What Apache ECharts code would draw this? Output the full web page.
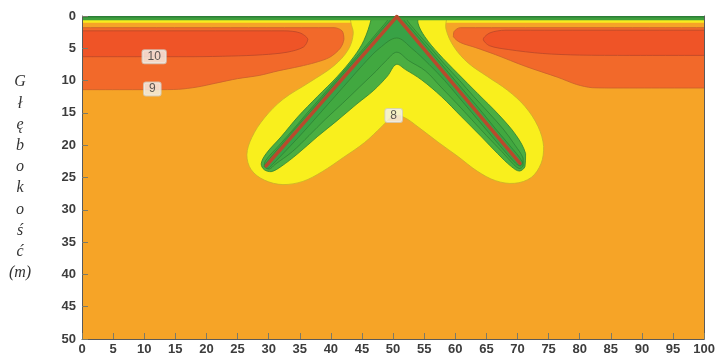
<!DOCTYPE html>
<html>
<head>
<meta charset="utf-8">
<script src="https://cdn.jsdelivr.net/npm/echarts@6/dist/echarts.min.js"></script>
<style>
  html, body { margin: 0; padding: 0; background: #ffffff; }
  #chart { width: 718px; height: 358px; }
</style>
</head>
<body>
<div id="chart"></div>
<script>
// Axis ranges (distance in m, depth in m)
const xRange = [0, 100];
const depthRange = [0, 50];
const tickStep = 5;

// Contour outlines as [distance, depth] pairs (temperature bands in °C)
const plotArea = [[-3, -1], [103, -1], [103, 53], [-3, 53]];

// 9–10 °C band, left and right of the pipes
const band9Left = [[-3, 1.8], [40.5, 1.8], [41.8, 2.3], [42.1, 3.6], [41.5, 5], [39.8, 6.4], [37.5, 7.2], [35, 7.8], [31.5, 8.5], [28.5, 9.2], [25, 9.7], [21.5, 10.4], [18.5, 11], [15.5, 11.35], [12, 11.4], [-3, 11.4]];
const band9Right = [[103, 1.8], [60.8, 1.8], [59.8, 2.4], [59.7, 3.2], [60.8, 4.1], [63.3, 4.9], [66.5, 6], [71.3, 7.8], [76.5, 9.5], [79.5, 10.6], [82, 11.1], [86, 11.15], [103, 11.15]];

// above 10 °C
const band10Left = [[-3, 2.3], [32.5, 2.3], [35, 2.6], [36.3, 3.6], [35.6, 4.8], [33, 5.6], [29, 6.0], [24, 6.2], [18, 6.3], [-3, 6.3]];
const band10Right = [[103, 2.2], [68, 2.2], [65.6, 2.6], [64.5, 3.6], [65.5, 4.6], [68.6, 5.2], [74, 5.8], [80, 6.05], [88, 6.1], [103, 6.1]];

// cold surface layer
const surfaceYellow = [[-3, -1], [103, -1], [103, 1.05], [-3, 1.05]];
const surfaceGreen = [[-3, -1], [103, -1], [103, 0.65], [-3, 0.65]];
const surfaceDark = [[-3, -1], [103, -1], [103, 0.22], [-3, 0.22]];

// below 8 °C around the V
const band8V = [[43.2, -1], [43.2, 0.9], [43.6, 2.7], [42.8, 5.2], [40.5, 7.7], [36.5, 10.3], [32.3, 12.9], [29.3, 15.8], [27.3, 18.8], [26.5, 21.5], [27.2, 23.8], [29.3, 25.4], [32.3, 26.1], [35.5, 25.6], [38.6, 24.1], [42, 21.9], [45.4, 19.6], [48.2, 17.1], [50.1, 15.4], [51.8, 15.7], [54.2, 17.3], [57.2, 19.5], [60.5, 21.8], [63.5, 24], [66.5, 25.5], [69.5, 25.9], [72.2, 25], [73.8, 22.8], [74.2, 20.2], [73.3, 17.1], [71.2, 14], [68.4, 11.5], [65.2, 9.4], [62.1, 7.3], [59.8, 4.8], [58.5, 2], [58.3, -1]];

// below 7, 6 and 5 °C
const band7V = [[46.5, -1], [46.5, 0.4], [45.3, 3.8], [43.7, 6.3], [41, 9.4], [37.8, 12.5], [34.7, 15.6], [32, 18.7], [29.6, 21.3], [28.8, 22.9], [29.3, 23.8], [30.4, 24.1], [32, 23.3], [34.7, 21.3], [37.8, 18.7], [41, 16.2], [44.2, 13.6], [46.9, 11.5], [49.1, 9.3], [50.5, 7.5], [52, 8.3], [54.6, 9.9], [57.8, 12.5], [61, 15.6], [64.2, 18.7], [66.8, 21.3], [69, 23.3], [70.3, 24], [71.2, 23.3], [71.3, 21.3], [69.8, 18.5], [67, 15.3], [63.6, 12], [60.4, 8.9], [57.3, 5.8], [55.1, 3.2], [54, 1.1], [54, -1]];
const band6V = [[49.4, -1], [49.4, 0.2], [47.5, 2.5], [45.3, 5], [43, 7.5], [40.75, 10], [38.5, 12.5], [36.2, 15], [34, 17.5], [31.7, 20], [29.5, 22.4], [29.3, 23.3], [30.1, 23.7], [31, 23], [33.8, 21], [36.5, 18.5], [39.1, 16], [41.9, 13.5], [44.6, 11], [47.3, 8.5], [48.9, 6.9], [50.6, 5.6], [52.5, 6.9], [55.2, 8.5], [57.7, 11], [60.2, 13.5], [62.6, 16], [65, 18.5], [67.5, 21], [69.4, 23], [70.3, 23.6], [70.9, 23.2], [70.9, 22], [69.6, 20], [67.7, 17.5], [65.4, 15], [63, 12.5], [60.7, 10], [58.3, 7.5], [56.1, 5], [53.8, 2.5], [52, 0.2], [52, -1]];
const band5V = [[50, -1], [50, 0], [47.8, 2.5], [45.6, 5], [43.3, 7.5], [41.05, 10], [38.8, 12.5], [36.5, 15], [34.2, 17.5], [32, 20], [29.8, 22.5], [29.4, 23.3], [29.9, 23.6], [30.6, 23], [33.6, 20], [36, 17.5], [38.3, 15], [40.6, 12.5], [42.9, 10], [45.2, 7.5], [47.8, 5], [50.6, 3.4], [53, 5], [55.8, 7.5], [58.3, 10], [60.5, 12.5], [62.7, 15], [64.9, 17.5], [67.1, 20], [69.7, 22.8], [70.5, 23.2], [70.8, 22.6], [68.7, 20], [66.5, 17.5], [64.4, 15], [62.2, 12.5], [60, 10], [57.8, 7.5], [55.6, 5], [53.4, 2.5], [51.3, 0], [51.3, -1]];

// Inclined pipes (top and bottom ends)
const pipeLeft = [[50.6, 0.1], [29.6, 23.2]];
const pipeRight = [[50.6, 0.1], [70.4, 22.8]];

// Contour value labels: [distance, depth, text]
const contourLabels = [[11.6, 6.3, '10'], [11.3, 11.3, '9'], [50.1, 15.4, '8']];

// Axis title, one letter per line
const depthTitle = ['G', 'ł', 'ę', 'b', 'o', 'k', 'o', 'ś', 'ć', '(m)'];

// Drawing order and styles of the filled bands
const layers = [
  { outline: plotArea, fill: '#F6A427', stroke: null, smooth: 0 },
  { outline: band9Left, fill: '#F2692A', stroke: '#C9602C', smooth: 0.3 },
  { outline: band9Right, fill: '#F2692A', stroke: '#C9602C', smooth: 0.3 },
  { outline: band10Left, fill: '#EF5427', stroke: '#B9482A', smooth: 0.3 },
  { outline: band10Right, fill: '#EF5427', stroke: '#B9482A', smooth: 0.3 },
  { outline: surfaceYellow, fill: '#F8EC1E', stroke: null, smooth: 0 },
  { outline: band8V, fill: '#F9EF1D', stroke: '#C9B02A', smooth: 0.35 },
  { outline: band7V, fill: '#4AAE42', stroke: '#2F8234', smooth: 0.35 },
  { outline: band6V, fill: '#41A840', stroke: '#2F8234', smooth: 0.35 },
  { outline: band5V, fill: '#38A246', stroke: '#2F8234', smooth: 0.35 },
  { outline: surfaceGreen, fill: '#3E9F3C', stroke: null, smooth: 0 },
  { outline: surfaceDark, fill: '#2C7F36', stroke: null, smooth: 0 }
];

const chart = echarts.init(document.getElementById('chart'), null, { renderer: 'canvas' });

const tickLabelStyle = { color: '#3c3c3c', fontSize: 13, fontWeight: 'bold', fontFamily: 'Liberation Sans, Arial, sans-serif' };

// bounding box of screen points, keeps smoothed curves inside their outline
function boundsOf(points) {
  let minX = Infinity, minY = Infinity, maxX = -Infinity, maxY = -Infinity;
  points.forEach(p => {
    minX = Math.min(minX, p[0]); maxX = Math.max(maxX, p[0]);
    minY = Math.min(minY, p[1]); maxY = Math.max(maxY, p[1]);
  });
  return [[minX, minY], [maxX, maxY]];
}

chart.setOption({
  animation: false,
  backgroundColor: '#ffffff',
  grid: { left: 82, right: 12, top: 16, bottom: 19 },
  xAxis: {
    type: 'value', min: xRange[0], max: xRange[1], interval: tickStep, z: 10,
    axisLine: { show: true, onZero: false, lineStyle: { color: '#5a5a5a', width: 1 } },
    axisTick: { show: true, inside: true, length: 6, lineStyle: { color: '#7a7a6a' } },
    axisLabel: Object.assign({ margin: 4 }, tickLabelStyle),
    splitLine: { show: false }
  },
  yAxis: [{
    type: 'value', inverse: true, min: depthRange[0], max: depthRange[1], interval: tickStep, z: 10,
    axisLine: { show: true, onZero: false, lineStyle: { color: '#5a5a5a', width: 1 } },
    axisTick: { show: true, inside: true, length: 6, lineStyle: { color: '#7a7a6a' } },
    axisLabel: Object.assign({ margin: 6 }, tickLabelStyle),
    splitLine: { show: false },
    name: depthTitle.join('\n'),
    nameLocation: 'middle',
    nameRotate: 0,
    nameGap: 62,
    nameTextStyle: {
      fontFamily: 'Liberation Serif, serif', fontStyle: 'italic', fontSize: 16,
      color: '#333', lineHeight: 21.2, align: 'center', verticalAlign: 'middle'
    }
  }, {
    type: 'value', inverse: true, min: depthRange[0], max: depthRange[1], interval: tickStep, position: 'right', z: 10,
    axisLine: { show: true, onZero: false, lineStyle: { color: '#5a5a5a', width: 1 } },
    axisTick: { show: false }, axisLabel: { show: false }, splitLine: { show: false }
  }],
  series: [
    {
      type: 'custom',
      coordinateSystem: 'cartesian2d',
      clip: true,
      silent: true,
      data: layers.map((l, i) => [i, 0]),
      renderItem: function (params, api) {
        const layer = layers[params.dataIndex];
        const points = layer.outline.map(p => api.coord(p));
        const shape = { points: points };
        if (layer.smooth) {
          shape.smooth = layer.smooth;
          shape.smoothConstraint = boundsOf(points);
        }
        return {
          type: 'polygon',
          shape: shape,
          style: {
            fill: layer.fill,
            stroke: layer.stroke || null,
            lineWidth: layer.stroke ? 0.8 : 0
          }
        };
      }
    },
    {
      type: 'line', data: pipeLeft, symbol: 'none', silent: true, clip: true,
      lineStyle: { color: '#B84A2C', width: 3.5, cap: 'round' }
    },
    {
      type: 'line', data: pipeRight, symbol: 'none', silent: true, clip: true,
      lineStyle: { color: '#B84A2C', width: 3.5, cap: 'round' }
    },
    {
      type: 'scatter', symbolSize: 0, silent: true,
      data: contourLabels.map(l => ({ value: [l[0], l[1]], name: l[2] })),
      label: {
        show: true, position: 'inside', formatter: '{b}',
        color: '#333', fontSize: 12, fontFamily: 'Liberation Sans, Arial, sans-serif',
        backgroundColor: '#F4F3EE', borderColor: '#d2d0c6', borderWidth: 1,
        borderRadius: 2, padding: [1, 5, 0, 5]
      }
    }
  ]
});
</script>
</body>
</html>
